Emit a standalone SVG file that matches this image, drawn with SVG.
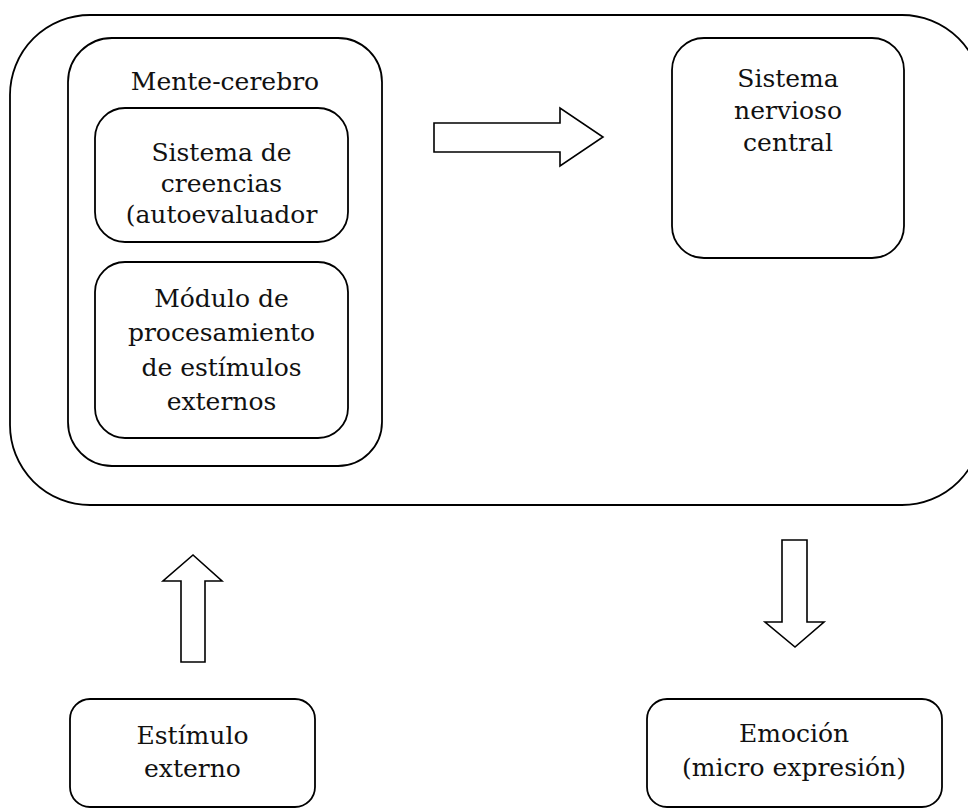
<svg xmlns="http://www.w3.org/2000/svg" width="968" height="808" viewBox="0 0 968 808">
  <style>
    .box { fill: none; stroke: #000; stroke-width: 1.8; }
    .arrow { fill: #fff; stroke: #000; stroke-width: 1.6; stroke-linejoin: miter; }
    text { font-family: "DejaVu Serif", "Liberation Serif", serif; font-size: 25px; fill: #111; text-anchor: middle; }
  </style>
  <rect width="968" height="808" fill="#fff"/>
  <g id="cuerpo">
    <rect class="box" x="10" y="15" width="972" height="490" rx="80" ry="80"/>
  </g>
  <g id="mente-cerebro">
    <rect class="box" x="68" y="38" width="314" height="428" rx="44" ry="44"/>
    <text x="225" y="90">Mente-cerebro</text>
  </g>
  <g id="sistema-creencias">
    <rect class="box" x="95" y="108" width="253" height="134" rx="30" ry="30"/>
    <text x="221.5" y="161">Sistema de</text>
    <text x="221.5" y="192">creencias</text>
    <text x="221.5" y="223">(autoevaluador</text>
  </g>
  <g id="modulo-procesamiento">
    <rect class="box" x="95" y="262" width="253" height="176" rx="30" ry="30"/>
    <text x="221.5" y="307">Módulo de</text>
    <text x="221.5" y="341">procesamiento</text>
    <text x="221.5" y="376">de estímulos</text>
    <text x="221.5" y="410">externos</text>
  </g>
  <g id="sistema-nervioso">
    <rect class="box" x="672" y="38" width="232" height="220" rx="32" ry="32"/>
    <text x="788" y="87">Sistema</text>
    <text x="788" y="119">nervioso</text>
    <text x="788" y="151">central</text>
  </g>
  <g id="estimulo-externo">
    <rect class="box" x="70" y="699" width="245" height="108" rx="20" ry="20"/>
    <text x="192.5" y="744">Estímulo</text>
    <text x="192.5" y="777">externo</text>
  </g>
  <g id="emocion">
    <rect class="box" x="647" y="699" width="295" height="108" rx="20" ry="20"/>
    <text x="794" y="742">Emoción</text>
    <text x="794" y="776">(micro expresión)</text>
  </g>
  <g id="connectors">
    <polygon class="arrow" points="434,123 560,123 560,108 603,137 560,166 560,152 434,152"/>
    <polygon class="arrow" points="181,662 181,581 163,581 193,555 222,581 205,581 205,662"/>
    <polygon class="arrow" points="782,540 807,540 807,622 824,622 795,647 765,622 782,622"/>
  </g>
</svg>
